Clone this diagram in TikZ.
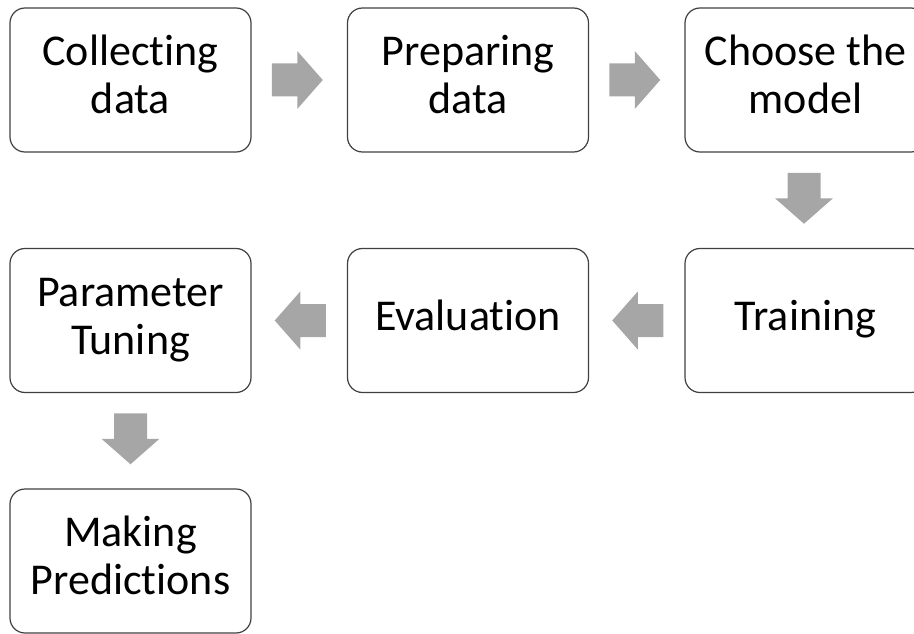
\documentclass[tikz,border=0pt]{standalone}
\usepackage{fontspec}
\setmainfont{Carlito}[Ligatures={NoCommon}]
\usetikzlibrary{calc}
\definecolor{arrowgray}{HTML}{A6A6A6}
\definecolor{boxline}{HTML}{404040}
\begin{document}
\begin{tikzpicture}[x=1pt,y=1pt,
  stepbox/.style={draw=boxline, line width=1.2pt, rounded corners=15pt,
    minimum width=241pt, minimum height=144pt, inner sep=0pt,
    align=center, font=\fontsize{44}{48}\selectfont, text=black},
  blockarrow/.pic={\fill[arrowgray] (-25.5,-16.5) -- (0,-16.5) -- (0,-29)
    -- (25.5,0) -- (0,29) -- (0,16.5) -- (-25.5,16.5) -- cycle;}]
\useasboundingbox (0,0) rectangle (914,-634);
\clip (0,0) rectangle (914,-634);
% boxes
\node[stepbox] (collect) at (130.5,-80) {\strut Collecting\\\strut data};
\node[stepbox] (prepare) at (468,-80) {\strut Preparing\\\strut data};
\node[stepbox] (choose) at (805.5,-80) {\strut Choose the\\\strut model};
\node[stepbox] (training) at (805.5,-320.5) {\strut Training};
\node[stepbox] (evaluation) at (468,-320.5) {\strut Evaluation};
\node[stepbox] (tuning) at (130.5,-320.5) {\strut Parameter\\\strut Tuning};
\node[stepbox] (predict) at (130.5,-561) {\strut Making\\\strut Predictions};
% block arrows
\pic (a1) at ($(collect.east)!0.5!(prepare.west)+(-2,0)$) {blockarrow};
\pic (a2) at ($(prepare.east)!0.5!(choose.west)+(-2,0)$) {blockarrow};
\pic[rotate=-90] (a3) at ($(choose.south)!0.5!(training.north)+(-1.5,2)$) {blockarrow};
\pic[rotate=180] (a4) at ($(training.west)!0.5!(evaluation.east)+(1,0)$) {blockarrow};
\pic[rotate=180] (a5) at ($(evaluation.west)!0.5!(tuning.east)+(1,0)$) {blockarrow};
\pic[rotate=-90] (a6) at ($(tuning.south)!0.5!(predict.north)+(0,2)$) {blockarrow};
\end{tikzpicture}
\end{document}
